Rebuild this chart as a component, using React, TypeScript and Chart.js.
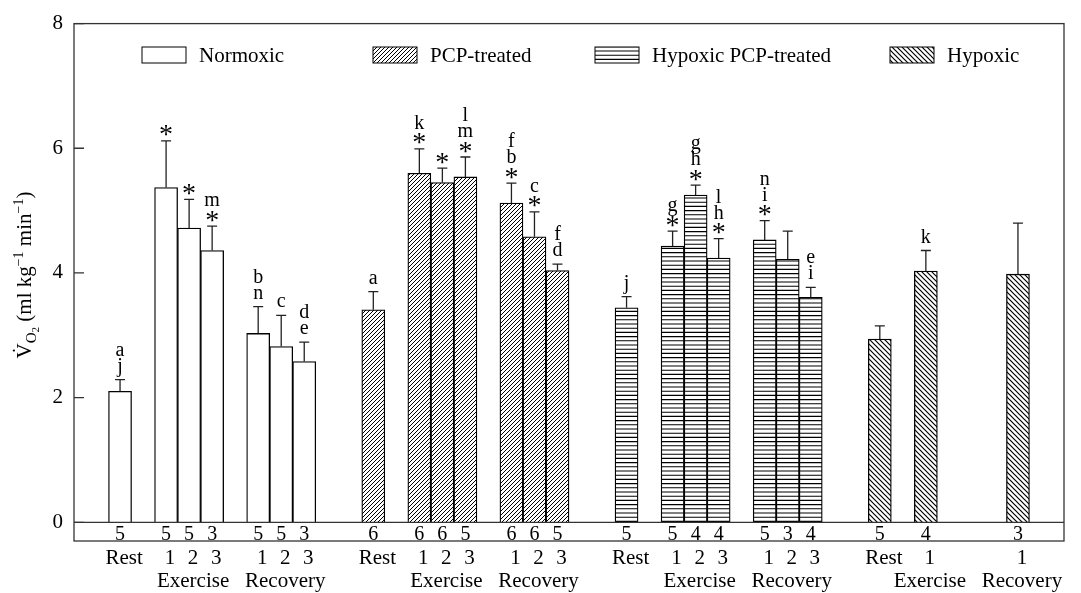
import { useEffect, useRef } from "react";
import { Chart, registerables } from "chart.js";

Chart.register(...registerables);

// ---------------- data ----------------
const groupNames = ["Normoxic", "PCP-treated", "Hypoxic PCP-treated", "Hypoxic"];
const phaseTickLabels = ["Rest", "1", "2", "3", "1", "2", "3"];
const sectionLabels = ["Exercise", "Recovery"];
const yTickValues = [0, 2, 4, 6, 8];

const normoxicMean = [2.1, 5.37, 4.72, 4.36, 3.03, 2.82, 2.58];
const normoxicSE = [0.19, 0.75, 0.46, 0.39, 0.43, 0.5, 0.31];
const normoxicN = [5, 5, 5, 3, 5, 5, 3];
const normoxicMarks = [["j", "a"], ["*"], ["*"], ["*", "m"], ["n", "b"], ["c"], ["e", "d"]];

const pcpMean = [3.41, 5.6, 5.45, 5.54, 5.12, 4.58, 4.04];
const pcpSE = [0.29, 0.39, 0.23, 0.32, 0.32, 0.4, 0.1];
const pcpN = [6, 6, 6, 5, 6, 6, 5];
const pcpMarks = [["a"], ["*", "k"], ["*"], ["*", "m", "l"], ["*", "b", "f"], ["*", "c"], ["d", "f"]];

const hypPcpMean = [3.44, 4.43, 5.25, 4.24, 4.53, 4.22, 3.61];
const hypPcpSE = [0.18, 0.24, 0.16, 0.31, 0.31, 0.45, 0.16];
const hypPcpN = [5, 5, 4, 4, 5, 3, 4];
const hypPcpMarks = [["j"], ["*", "g"], ["*", "h", "g"], ["*", "h", "l"], ["*", "i", "n"], [], ["i", "e"]];

const hypoxicMean = [2.94, 4.03, null, null, 3.98, null, null];
const hypoxicSE = [0.21, 0.33, null, null, 0.82, null, null];
const hypoxicN = [5, 4, null, null, 3, null, null];
const hypoxicMarks = [[], ["k"], [], [], [], [], []];

const means = [normoxicMean, pcpMean, hypPcpMean, hypoxicMean];
const ses = [normoxicSE, pcpSE, hypPcpSE, hypoxicSE];
const ns = [normoxicN, pcpN, hypPcpN, hypoxicN];
const marks = [normoxicMarks, pcpMarks, hypPcpMarks, hypoxicMarks];

const FONT = "'Liberation Serif', 'Times New Roman', serif";

// slot layout: Rest, gap, Ex1-3, gap, Rec1-3, then two empty slots between groups
function slotOf(g: number, p: number) {
  const within = p === 0 ? 0 : p <= 3 ? p + 1 : p + 2;
  return g * 11 + within;
}

function makePattern(ctx: CanvasRenderingContext2D, kind: string): CanvasPattern {
  const c = document.createElement("canvas");
  const g = c.getContext("2d")!;
  if (kind === "horiz") {
    c.width = 8;
    c.height = 21;
    g.fillStyle = "#fff";
    g.fillRect(0, 0, 8, 21);
    g.strokeStyle = "#000";
    g.lineWidth = 1.1;
    g.beginPath();
    for (let k = 0; k < 5; k++) {
      const y = 0.6 + k * 4.2;
      g.moveTo(0, y);
      g.lineTo(8, y);
    }
    g.stroke();
  } else {
    const s = kind === "fwd" ? 4 : 5;
    c.width = s;
    c.height = s;
    g.fillStyle = "#fff";
    g.fillRect(0, 0, s, s);
    g.strokeStyle = "#000";
    g.lineWidth = kind === "fwd" ? 1.0 : 1.2;
    g.beginPath();
    if (kind === "fwd") {
      g.moveTo(0, s);
      g.lineTo(s, 0);
      g.moveTo(-1, 1);
      g.lineTo(1, -1);
      g.moveTo(s - 1, s + 1);
      g.lineTo(s + 1, s - 1);
    } else {
      g.moveTo(0, 0);
      g.lineTo(s, s);
      g.moveTo(-1, s - 1);
      g.lineTo(1, s + 1);
      g.moveTo(s - 1, -1);
      g.lineTo(s + 1, 1);
    }
    g.stroke();
  }
  return ctx.createPattern(c, "repeat")!;
}

export default function App() {
  const ref = useRef<HTMLCanvasElement>(null);

  useEffect(() => {
    const canvas = ref.current!;
    const ctx = canvas.getContext("2d")!;
    const fills: (string | CanvasPattern)[] = [
      "#ffffff",
      makePattern(ctx, "fwd"),
      makePattern(ctx, "horiz"),
      makePattern(ctx, "back"),
    ];

    // x tick labels
    const tickSlots: number[] = [];
    const tickText = new Map<number, string[]>();
    groupNames.forEach((_, g) => {
      const present = (p: number) => means[g][p] !== null;
      const ex = [1, 2, 3].filter(present);
      const rc = [4, 5, 6].filter(present);
      const exMid = ex[Math.floor(ex.length / 2)];
      const rcMid = rc[Math.floor(rc.length / 2)];
      for (let p = 0; p < 7; p++) {
        if (!present(p)) continue;
        const s = slotOf(g, p);
        tickSlots.push(s);
        const lines = [phaseTickLabels[p]];
        if (p === exMid) lines.push(sectionLabels[0]);
        if (p === rcMid) lines.push(sectionLabels[1]);
        tickText.set(s, lines);
      }
    });

    const datasets = groupNames.map((name, g) => ({
      label: name,
      data: means[g]
        .map((v, p) => ({ x: slotOf(g, p), y: v as number, p }))
        .filter((d) => d.y !== null),
      backgroundColor: fills[g],
      borderColor: "#000",
      borderWidth: 1.3,
      barPercentage: 1,
      categoryPercentage: 1,
      grouped: false,
    }));

    const deco = {
      id: "deco",
      afterDatasetsDraw(chart: any) {
        const c: CanvasRenderingContext2D = chart.ctx;
        const area = chart.chartArea;
        const ys = chart.scales.y;
        c.save();
        // frame
        c.strokeStyle = "#333";
        c.lineWidth = 1.3;
        c.strokeRect(area.left, area.top, area.right - area.left, area.bottom - area.top);
        // zero line
        const y0 = ys.getPixelForValue(0);
        c.beginPath();
        c.moveTo(area.left, y0);
        c.lineTo(area.right, y0);
        c.stroke();
        // y tick marks (inward)
        c.beginPath();
        yTickValues.forEach((v) => {
          const y = ys.getPixelForValue(v);
          c.moveTo(area.left, y);
          c.lineTo(area.left + 10, y);
        });
        c.stroke();

        // asterisk size: scale so glyph is ~10px tall
        c.font = `100px ${FONT}`;
        const m100 = c.measureText("*");
        const h100 = m100.actualBoundingBoxAscent + m100.actualBoundingBoxDescent;
        const starSize = Math.round((10.5 / h100) * 100);

        // error bars, marks, n
        c.fillStyle = "#000";
        c.textAlign = "center";
        c.textBaseline = "alphabetic";
        chart.data.datasets.forEach((ds: any, g: number) => {
          const meta = chart.getDatasetMeta(g);
          meta.data.forEach((el: any, i: number) => {
            const p = ds.data[i].p;
            const x = el.x;
            const yTop = el.y;
            const se = ses[g][p] as number;
            const cap = ys.getPixelForValue((means[g][p] as number) + se);
            c.strokeStyle = "#222";
            c.lineWidth = 1.3;
            c.beginPath();
            c.moveTo(x, yTop);
            c.lineTo(x, cap);
            c.moveTo(x - 5, cap);
            c.lineTo(x + 5, cap);
            c.stroke();
            // marks
            let base = cap - 8;
            for (const m of marks[g][p]) {
              if (m === "*") {
                c.font = `${starSize}px ${FONT}`;
                const mt = c.measureText("*");
                const center = cap - 10;
                const bl = center + (mt.actualBoundingBoxAscent - mt.actualBoundingBoxDescent) / 2;
                c.fillText("*", x, bl);
                base = cap - 20;
              } else {
                c.font = `20px ${FONT}`;
                c.fillText(m, x, base);
                base -= 16;
              }
            }
            // sample size
            c.font = `20px ${FONT}`;
            c.fillText(String(ns[g][p]), x, area.bottom - 1);
          });
        });

        // legend
        const legendX = [142, 373, 595, 890];
        c.font = `21px ${FONT}`;
        c.textAlign = "left";
        groupNames.forEach((name, g) => {
          const bx = legendX[g];
          c.fillStyle = fills[g];
          c.fillRect(bx, 47, 44, 16);
          c.strokeStyle = "#000";
          c.lineWidth = 1;
          c.strokeRect(bx, 47, 44, 16);
          c.fillStyle = "#000";
          c.fillText(name, bx + 57, 62);
        });

        // y title
        const parts = [
          { t: "V\u0307", s: 21, dy: 0 },
          { t: "O", s: 15, dy: 5 },
          { t: "2", s: 11, dy: 8 },
          { t: " (ml kg", s: 21, dy: 0 },
          { t: "\u22121", s: 14, dy: -8 },
          { t: " min", s: 21, dy: 0 },
          { t: "\u22121", s: 14, dy: -8 },
          { t: ")", s: 21, dy: 0 },
        ];
        let total = 0;
        const widths = parts.map((pt) => {
          c.font = `${pt.s}px ${FONT}`;
          const w = c.measureText(pt.t).width;
          total += w;
          return w;
        });
        c.translate(31, 275);
        c.rotate(-Math.PI / 2);
        let cx = -total / 2;
        parts.forEach((pt, k) => {
          c.font = `${pt.s}px ${FONT}`;
          c.fillText(pt.t, cx, pt.dy);
          cx += widths[k];
        });
        c.restore();
      },
    };

    const chart = new Chart(canvas, {
      type: "bar",
      data: { datasets } as any,
      options: {
        responsive: false,
        devicePixelRatio: 1,
        animation: false,
        layout: { padding: { top: 20, right: 17, left: 0, bottom: 0 } },
        plugins: {
          legend: { display: false },
          tooltip: { enabled: false },
        },
        scales: {
          x: {
            type: "linear",
            min: -2,
            max: 41,
            offset: false,
            grid: { display: false, drawTicks: false },
            border: { display: false },
            afterBuildTicks: (s: any) => {
              s.ticks = tickSlots.map((v) => ({ value: v }));
            },
            afterFit: (s: any) => {
              s.height = 52;
            },
            ticks: {
              autoSkip: false,
              maxRotation: 0,
              minRotation: 0,
              padding: 6,
              labelOffset: 4,
              color: "#000",
              font: { family: FONT, size: 21, lineHeight: 1.1 },
              callback: (v: any) => tickText.get(Number(v)) ?? "",
            },
          },
          y: {
            min: -0.3,
            max: 8,
            grid: { display: false, drawTicks: false },
            border: { display: false },
            afterBuildTicks: (s: any) => {
              s.ticks = yTickValues.map((v) => ({ value: v }));
            },
            afterFit: (s: any) => {
              s.width = 74;
            },
            ticks: {
              padding: 11,
              color: "#000",
              font: { family: FONT, size: 21 },
            },
          },
        },
      } as any,
      plugins: [deco],
    });
    return () => chart.destroy();
  }, []);

  return (
    <div style={{ position: "absolute", left: 0, top: 0, width: 1081, height: 593, background: "#fff" }}>
      <canvas ref={ref} width={1081} height={593} style={{ display: "block" }} />
    </div>
  );
}
